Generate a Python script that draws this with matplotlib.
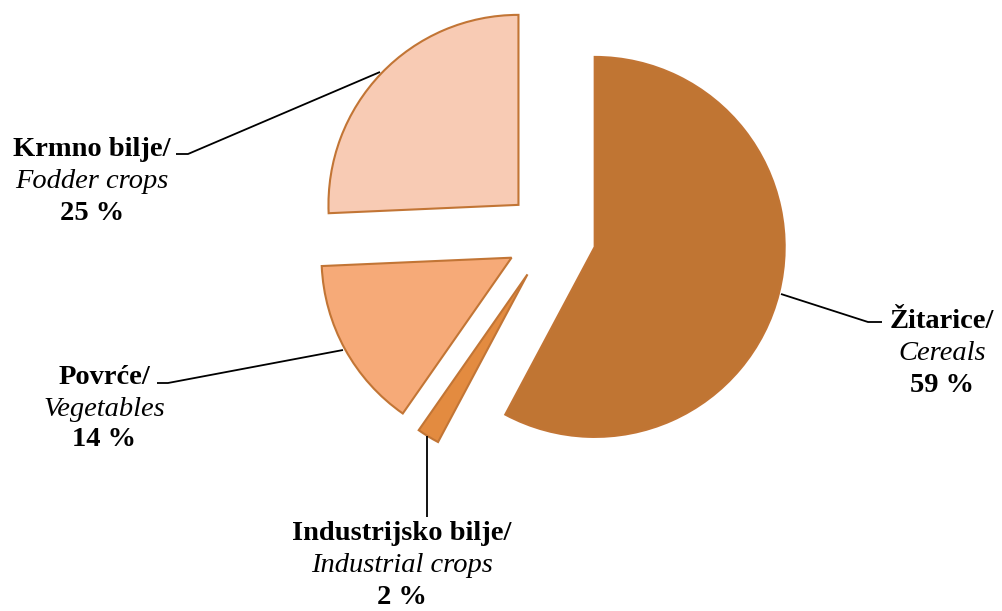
import matplotlib
matplotlib.use("Agg")
import matplotlib.pyplot as plt

# ---- data ----
categories_hr = ["Žitarice/", "Industrijsko bilje/", "Povrće/", "Krmno bilje/"]
categories_en = ["Cereals", "Industrial crops", "Vegetables", "Fodder crops"]
# slice sizes as drawn in the picture (%)
shares = [57.8, 1.9, 14.6, 25.7]
# percentages printed on the labels
label_pct = [59, 2, 14, 25]

colors = ["#C07533", "#E38B40", "#F6AA78", "#F8CBB4"]
edge = "#C27535"

W, H = 1003, 611
fig = plt.figure(figsize=(W / 100, H / 100), dpi=100)
ax = fig.add_axes([0, 0, 1, 1])

def Y(py):
    return H - py

center = (551, Y(236))
radius = 190
explode_frac = 0.237
ax.pie(shares, colors=colors, startangle=90, counterclock=False,
       explode=[explode_frac * radius] * len(shares), center=center, radius=radius,
       wedgeprops=dict(edgecolor=edge, linewidth=1.5), frame=True)
ax.set_xlim(0, W)
ax.set_ylim(0, H)
ax.set_aspect("equal")
ax.axis("off")

# leader lines (pixel positions)
leaders = [
    [(882, 322), (868, 322), (781, 294)],
    [(427, 517), (427, 436)],
    [(157, 383), (168, 383), (343, 350)],
    [(176, 154), (188, 154), (380, 72)],
]
for pts in leaders:
    ax.plot([p[0] for p in pts], [Y(p[1]) for p in pts], color="black", lw=1.3,
            solid_capstyle="butt")

# label blocks: center x, y of first line
label_pos = [(942, 321), (402, 534), (104, 378), (92, 149)]
line_gap = [32, 32, 31, 32]
font = "Liberation Serif"
fs = 20.5
for hr, en, val, (x, y), g in zip(categories_hr, categories_en, label_pct, label_pos, line_gap):
    ax.text(x, Y(y), hr, ha="center", va="center", fontsize=fs, fontweight="bold",
            family=font)
    ax.text(x, Y(y + g), en, ha="center", va="center", fontsize=fs, style="italic",
            family=font)
    ax.text(x, Y(y + 2 * g), f"{val} %", ha="center", va="center", fontsize=fs,
            fontweight="bold", family=font)

fig.savefig("out.png", dpi=100)
